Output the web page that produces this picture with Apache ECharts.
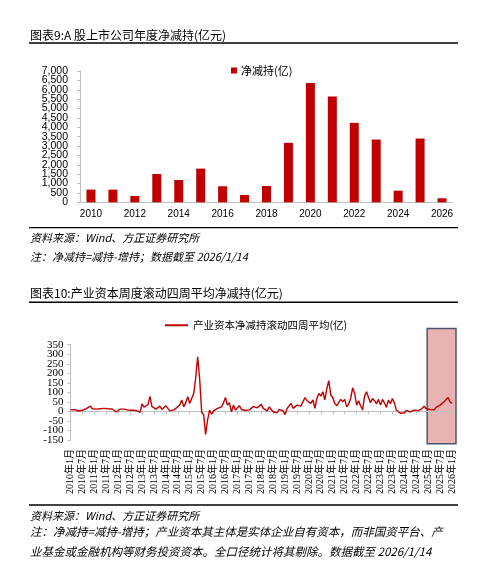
<!DOCTYPE html>
<html><head><meta charset="utf-8">
<script src="https://cdn.jsdelivr.net/npm/echarts@6/dist/echarts.min.js"></script>
<style>html,body{margin:0;padding:0;background:#fff}#c{width:479px;height:582px}</style>
</head><body><div id="c"></div>
<script>
// ---- Chart 1: annual net reduction (亿元)
const years = ['2010','2011','2012','2013','2014','2015','2016','2017','2018','2019','2020','2021','2022','2023','2024','2025','2026'];
const netReduction = [675, 675, 340, 1510, 1190, 1795, 855, 390, 870, 3170, 6355, 5640, 4235, 3345, 620, 3400, 215];

// ---- Chart 2: rolling 4-week average net reduction by industrial capital (亿元), sampled monthly
const r2010 = [8, 10, 9, 12, 2, 4, 6, 8, 15, 22, 28, 14];
const r2011 = [10, 12, 19, 14, 12, 16, 10, 14, 15, 13, 8, -3];
const r2012 = [5, 12, 8, 12, 2, 7, 10, 6, 8, 5, 2, -5];
const r2013 = [40, 22, 25, 35, 79, 25, 18, 12, 14, 28, 10, 20];
const r2014 = [30, 16, 3, -3, 8, 16, 24, 35, 60, 24, 45, 77];
const r2015 = [42, 68, 94, 175, 287, 170, -2, -17, -121, -45, 7, -14];
const r2016 = [3, 8, 16, 20, 24, 45, 73, 33, 45, -2, 33, 7];
const r2017 = [15, 30, 10, 6, 5, 3, 8, 7, 25, 33, 19, 25];
const r2018 = [37, 16, 12, 3, 24, 10, -2, 5, -7, 10, 6, 3];
const r2019 = [-17, 15, 24, 42, 16, 25, 33, 42, 28, 50, 73, 56];
const r2020 = [48, 42, 60, 16, 68, 94, 80, 103, 60, 120, 161, 85];
const r2021 = [73, 42, 30, 24, 63, 51, 63, 24, 40, 68, 124, 94];
const r2022 = [33, 56, 30, 7, 80, 103, 73, 45, 68, 56, 40, 63];
const r2023 = [33, 63, 45, 21, 59, 40, 68, 45, 7, 3, -10, 0];
const r2024 = [-7, 5, 3, -3, -7, 7, -3, 4, 7, 15, 28, 14];
const r2025 = [17, 10, 3, 8, 21, 16, 33, 42, 51, 59, 73, 51];
const r2026 = [42];
const rolling = [].concat(r2010,r2011,r2012,r2013,r2014,r2015,r2016,r2017,r2018,r2019,r2020,r2021,r2022,r2023,r2024,r2025,r2026);

const months = [];
for (let y = 2010; y <= 2026; y++) {
  for (let m = 1; m <= 12; m++) {
    if (y === 2026 && m > 1) break;
    months.push(y + '年' + m + '月');
  }
}
const highlight = { from: '2024年12月', to: '2026年1月', top: 435, bottom: -170 };

const barAxis = { min: 0, max: 7000, interval: 500 };
const lineAxis = { min: -150, max: 350, interval: 50 };

const CJK = '"Noto Sans CJK SC"';
const red = '#c00000';
const gray = '#bfbfbf';

// two overlaid axes per chart, each labelling alternate ticks (keeps every tick label visible)
function yAx(grid, sc, parity, font, size, margin, fmt, main) {
  return {
    type: 'value', gridIndex: grid, position: 'left', offset: 0,
    min: sc.min, max: sc.max, interval: sc.interval,
    axisLine: { show: main, onZero: false, lineStyle: { color: gray } },
    axisTick: { show: main, length: 3, lineStyle: { color: gray } },
    splitLine: { show: false },
    axisLabel: {
      fontFamily: font, fontSize: size, color: '#000', margin: margin,
      showMinLabel: true, showMaxLabel: true,
      formatter: v => (Math.round((v - sc.min) / sc.interval) % 2 === parity ? fmt(v) : '')
    }
  };
}
const fmtComma = v => v.toLocaleString('en-US');
const fmtPlain = v => String(v);

const chart = echarts.init(document.getElementById('c'), null, {renderer: 'canvas'});
chart.setOption({
  animation: false,
  backgroundColor: '#fff',
  legend: [
    { data: ['净减持(亿)'], left: 226, top: 60, icon: 'rect', itemWidth: 6, itemHeight: 6, itemGap: 4,
      textStyle: { fontFamily: CJK, fontSize: 11, color: '#000', padding: [0,0,0,-1] } },
    { data: ['产业资本净减持滚动四周平均(亿)'], left: 160, top: 315, icon: 'rect', itemWidth: 23, itemHeight: 2,
      textStyle: { fontFamily: CJK, fontSize: 10.5, color: '#000' } }
  ],
  grid: [
    { left: 80, right: 26, top: 71, height: 131.3, containLabel: false },
    { left: 70.5, right: 27, top: 344.7, height: 95.3, containLabel: false }
  ],
  xAxis: [
    { type: 'category', gridIndex: 0, data: years,
      axisLine: { lineStyle: { color: gray } }, axisTick: { show: false },
      axisLabel: { interval: 1, fontFamily: 'Liberation Sans', fontSize: 10, color: '#000', margin: 7 } },
    { type: 'category', gridIndex: 1, data: months, boundaryGap: false,
      axisLine: { onZero: true, lineStyle: { color: gray } },
      axisTick: { show: true, interval: 5, length: 3, lineStyle: { color: gray } },
      axisLabel: { show: false } },
    { type: 'category', gridIndex: 1, data: months, boundaryGap: false, position: 'bottom',
      axisLine: { show: false, onZero: false }, axisTick: { show: false },
      axisLabel: { interval: 5, rotate: 90, fontFamily: 'Liberation Serif, ' + CJK, fontSize: 10, color: '#000', margin: 9 } }
  ],
  yAxis: [
    yAx(0, barAxis, 0, 'Liberation Sans', 10.5, 12, fmtComma, true),
    yAx(1, lineAxis, 0, 'Liberation Serif', 11, 7, fmtPlain, true),
    yAx(0, barAxis, 1, 'Liberation Sans', 10.5, 12, fmtComma, false),
    yAx(1, lineAxis, 1, 'Liberation Serif', 11, 7, fmtPlain, false)
  ],
  series: [
    { name: '净减持(亿)', type: 'bar', xAxisIndex: 0, yAxisIndex: 0, data: netReduction,
      barWidth: 9, itemStyle: { color: red } },
    { name: '产业资本净减持滚动四周平均(亿)', type: 'line', xAxisIndex: 1, yAxisIndex: 1, data: rolling,
      symbol: 'none', lineStyle: { color: red, width: 1.4 }, itemStyle: { color: red }, z: 3 }
  ]
});

const hx0 = chart.convertToPixel({ xAxisIndex: 1 }, highlight.from);
const hx1 = chart.convertToPixel({ xAxisIndex: 1 }, highlight.to);
const hy0 = chart.convertToPixel({ yAxisIndex: 1 }, highlight.top);
const hy1 = chart.convertToPixel({ yAxisIndex: 1 }, highlight.bottom);

function txt(text, x, y, size, italic) {
  return { type: 'text', x: x, y: y, silent: true,
    style: { text: text, fontFamily: CJK, fontSize: size, fontStyle: italic ? 'italic' : 'normal',
      fill: '#000', verticalAlign: 'middle', align: 'left' } };
}
function hline(y, w) {
  return { type: 'line', silent: true, shape: { x1: 29, y1: y, x2: 458, y2: y }, style: { stroke: '#000', lineWidth: w } };
}
chart.setOption({
  graphic: [
    txt('图表9:A 股上市公司年度净减持(亿元)', 30, 35, 12, false),
    hline(43, 1.6),
    hline(227.7, 1.3),
    txt('资料来源：Wind、方正证券研究所', 30, 238, 11, true),
    txt('注：净减持=减持-增持；数据截至 2026/1/14', 30, 257, 11, true),
    txt('图表10:产业资本周度滚动四周平均净减持(亿元)', 30, 293, 12, false),
    hline(302.3, 1.6),
    hline(505, 1.3),
    txt('资料来源：Wind、方正证券研究所', 30, 516, 11, true),
    txt('注：净减持=减持-增持；产业资本其主体是实体企业自有资本，而非国资平台、产', 30, 532, 11.5, true),
    txt('业基金或金融机构等财务投资资本。全口径统计将其剔除。数据截至 2026/1/14', 30, 552, 11.5, true),
    { type: 'rect', z: -10, silent: true,
      shape: { x: hx0 + 1, y: hy0, width: hx1 - hx0 + 3, height: hy1 - hy0 },
      style: { fill: '#e8b3b3', stroke: '#4b5573', lineWidth: 1.5 } }
  ]
});
</script>
</body></html>
